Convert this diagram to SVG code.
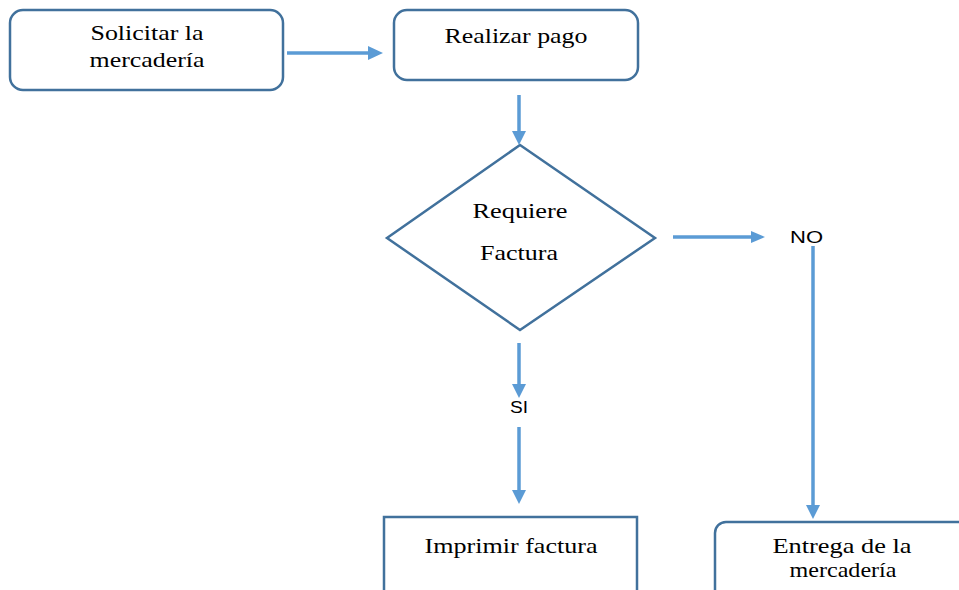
<svg xmlns="http://www.w3.org/2000/svg" width="959" height="590" viewBox="0 0 959 590">
  <style>
    .box { fill: #ffffff; stroke: #41719c; stroke-width: 2.5; }
    .lbl { font-family: "Liberation Serif", "Times New Roman", serif; font-size: 21px; fill: #000000; text-anchor: middle; }
    .tag { font-family: "Liberation Sans", Arial, sans-serif; font-size: 16px; fill: #000000; }
    .edge { stroke: #5b9bd5; stroke-width: 3.5; fill: none; }
    .head { fill: #5b9bd5; }
  </style>
  <rect width="959" height="590" fill="#ffffff"/>

  <g id="solicitar">
    <rect class="box" x="10" y="10" width="273" height="80" rx="13" ry="13"/>
    <text class="lbl" x="147" y="40" textLength="113" lengthAdjust="spacingAndGlyphs">Solicitar la</text>
    <text class="lbl" x="147" y="67" textLength="115" lengthAdjust="spacingAndGlyphs">mercadería</text>
  </g>

  <g id="pago">
    <rect class="box" x="394" y="10" width="244" height="70" rx="13" ry="13"/>
    <text class="lbl" x="516" y="43" textLength="143" lengthAdjust="spacingAndGlyphs">Realizar pago</text>
  </g>

  <g id="factura-decision">
    <polygon class="box" points="520,145 655,238 520,330 387,238"/>
    <text class="lbl" x="520" y="218" textLength="95" lengthAdjust="spacingAndGlyphs">Requiere</text>
    <text class="lbl" x="519" y="260" textLength="78" lengthAdjust="spacingAndGlyphs">Factura</text>
  </g>

  <g id="imprimir">
    <rect class="box" x="384" y="517" width="253" height="90"/>
    <text class="lbl" x="511" y="553" textLength="173" lengthAdjust="spacingAndGlyphs">Imprimir factura</text>
  </g>

  <g id="entrega">
    <rect class="box" x="715" y="522" width="270" height="90" rx="11" ry="11"/>
    <text class="lbl" x="842" y="553" textLength="139" lengthAdjust="spacingAndGlyphs">Entrega de la</text>
    <text class="lbl" x="843" y="577" textLength="107" lengthAdjust="spacingAndGlyphs">mercadería</text>
  </g>

  <g id="connectors">
    <!-- solicitar -> pago -->
    <line class="edge" x1="287" y1="53" x2="370" y2="53"/>
    <polygon class="head" points="383,53 368,46 368,60"/>
    <!-- pago -> decision -->
    <line class="edge" x1="519" y1="95" x2="519" y2="132"/>
    <polygon class="head" points="519,145 512,131 526,131"/>
    <!-- decision -> NO -->
    <line class="edge" x1="673" y1="237" x2="752" y2="237"/>
    <polygon class="head" points="765,237 751,231 751,243"/>
    <text class="tag" x="790" y="243" textLength="33" lengthAdjust="spacingAndGlyphs">NO</text>
    <!-- NO -> entrega -->
    <line class="edge" x1="813" y1="246" x2="813" y2="506"/>
    <polygon class="head" points="813,519 806,505 820,505"/>
    <!-- decision -> SI -->
    <line class="edge" x1="519" y1="343" x2="519" y2="386"/>
    <polygon class="head" points="519,398 512,384 526,384"/>
    <text class="tag" x="510" y="413" textLength="18" lengthAdjust="spacingAndGlyphs">SI</text>
    <!-- SI -> imprimir -->
    <line class="edge" x1="519" y1="427" x2="519" y2="492"/>
    <polygon class="head" points="519,504 512,490 526,490"/>
  </g>
</svg>
